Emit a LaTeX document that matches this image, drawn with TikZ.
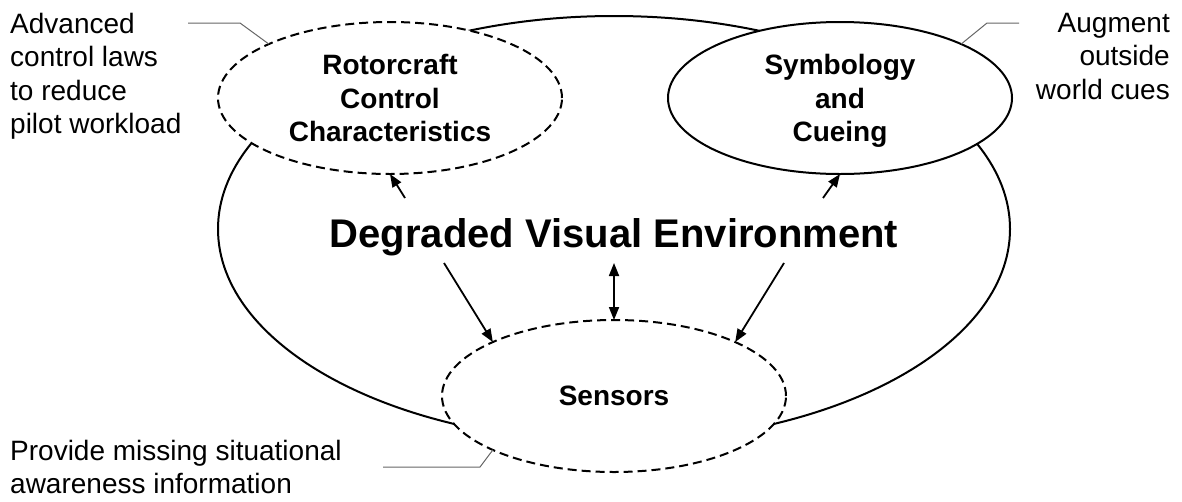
\documentclass[tikz,border=0pt]{standalone}
\usepackage{fontspec}
\setmainfont{Liberation Sans}
\usetikzlibrary{arrows.meta,shapes.geometric}

\begin{document}
\begin{tikzpicture}[x=1pt,y=-1pt,
  bubble/.style={ellipse, draw=black, line width=2pt, fill=white,
    minimum width=344pt, minimum height=152pt, inner sep=0pt, outer sep=0pt,
    align=center, font=\bfseries\fontsize{28}{33.5}\selectfont},
  dashedbubble/.style={bubble, dash pattern=on 9pt off 5pt},
  note/.style={inner sep=0pt, font=\fontsize{28}{33.5}\selectfont},
  leader/.style={draw=black!60, line width=1pt},
  tip/.tip={Triangle[length=13pt,width=10pt]},
  link/.style={draw=black, line width=1.8pt, -tip},
]
\useasboundingbox (0,0) rectangle (1182,501);

% outer environment
\node[ellipse, draw=black, line width=2pt, minimum width=792pt,
      minimum height=426pt, inner sep=0pt, outer sep=0pt] (env) at (614,229) {};

% the three research areas
\node[dashedbubble] (rcc) at (390,98) {Rotorcraft\\Control\\Characteristics};
\node[bubble] (sym) at (840,98) {Symbology\\and\\\raisebox{0pt}[\height][0pt]{Cueing}};
\node[dashedbubble] (sen) at (614,396) {Sensors};

% title
\node[font=\bfseries\fontsize{40}{48}\selectfont, inner sep=0pt, anchor=base]
  (dve) at (614,247) {Degraded Visual Environment};

% annotations
\node[note, anchor=north west, align=left] (n-rcc) at (10,13)
  {Advanced\\control laws\\to reduce\\pilot workload};
\node[note, anchor=north east, align=right] (n-sym) at (1170,13)
  {Augment\\outside\\world cues};
\node[note, anchor=north west, align=left] (n-sen) at (10,440)
  {Provide missing situational\\awareness information};

% leader lines
\coordinate (l1a) at (240,23);  \coordinate (l1b) at (188,23);
\draw[leader] (rcc.156) -- (l1a) -- (l1b);
\coordinate (l2a) at (987,23);  \coordinate (l2b) at (1019,23);
\draw[leader] (sym.24) -- (l2a) -- (l2b);
\coordinate (l3a) at (480,467); \coordinate (l3b) at (383,467);
\draw[leader] (sen.204) -- (l3a) -- (l3b);

% arrows
\coordinate (a1) at (405,198); \draw[link] (a1) -- (rcc.south);
\coordinate (a2) at (823,198); \draw[link] (a2) -- (sym.south);
\coordinate (a3) at (444,263); \draw[link] (a3) -- (sen.156);
\coordinate (a4) at (784,263); \draw[link] (a4) -- (sen.24);
\coordinate (a5) at (614,263); \draw[link, tip-tip] (a5) -- (sen.north);
\end{tikzpicture}
\end{document}
